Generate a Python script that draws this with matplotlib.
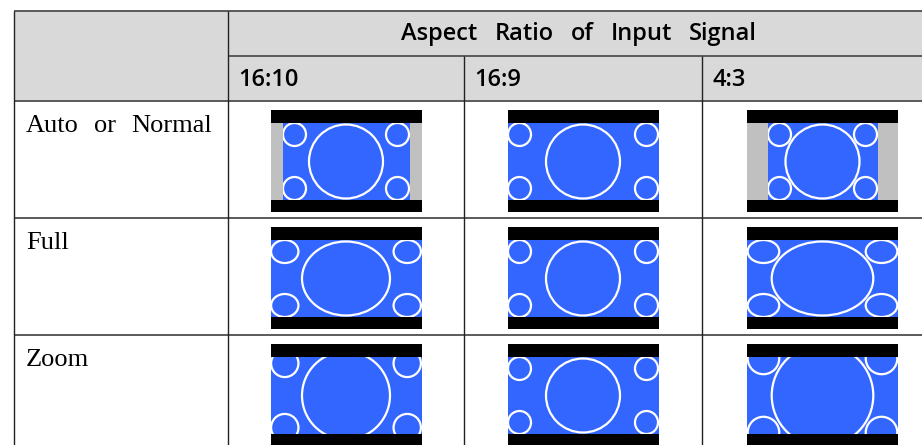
import matplotlib.pyplot as plt
from matplotlib.patches import Rectangle, Ellipse

# Table content
header = "Aspect Ratio of Input Signal"
aspects = ["16:10", "16:9", "4:3"]
modes = ["Auto or Normal", "Full", "Zoom"]

# width of the picture area for each input signal (px, native scale)
picture_widths = [127, 151, 110]

# Layout (pixels)
W, H = 922, 445
col_x = [14, 228, 464, 702, 943]
row_y = [11, 56, 101, 218, 335, 452]
frame_w, frame_h = 151, 102
bar_top, pic_h = 13, 77

blue = "#3366ff"
pillar = "#c0c0c0"
head_bg = "#d9d9d9"

fig = plt.figure(figsize=(W / 100, H / 100), dpi=100)
ax = fig.add_axes([0, 0, 1, 1])
ax.set_xlim(0, W)
ax.set_ylim(H, 0)
ax.axis("off")
renderer = fig.canvas.get_renderer()

# header background
ax.add_patch(Rectangle((col_x[0], row_y[0]), col_x[-1] - col_x[0], row_y[2] - row_y[0],
                       facecolor=head_bg, edgecolor="none"))

# grid lines
hl = dict(color="#5a5a5a", lw=1.4, solid_capstyle="butt")
ax.plot([col_x[0], col_x[-1]], [row_y[0]] * 2, **hl)
ax.plot([col_x[1], col_x[-1]], [row_y[1]] * 2, **hl)
for y in row_y[2:5]:
    ax.plot([col_x[0], col_x[-1]], [y] * 2, **hl)
vl = dict(color="#222222", lw=1.0, solid_capstyle="butt")
ax.plot([col_x[0]] * 2, [row_y[0], H], **vl)
ax.plot([col_x[1]] * 2, [row_y[0], H], **vl)
for x in col_x[2:4]:
    ax.plot([x] * 2, [row_y[1], H], **vl)

sans = dict(family=["Open Sans", "DejaVu Sans"], weight="semibold", fontsize=17)
serif = dict(family=["Liberation Serif", "DejaVu Serif"], fontsize=19)


def spaced_text(x, y, s, gap, va, props):
    # draw words one by one with a wide word gap (pixels)
    for word in s.split():
        t = ax.text(x, y, word, ha="left", va=va, **props)
        bb = t.get_window_extent(renderer)
        x += bb.width + gap


def words_width(s, gap, props):
    total = 0
    for word in s.split():
        t = ax.text(0, 0, word, **props)
        total += t.get_window_extent(renderer).width + gap
        t.remove()
    return total - gap


hw = words_width(header, 17, sans)
spaced_text(579 - hw / 2, (row_y[0] + row_y[1]) / 2 + 1, header, 17, "center", sans)
for j, a in enumerate(aspects):
    ax.text(col_x[j + 1] + 10, (row_y[1] + row_y[2]) / 2 + 1, a, ha="left", va="center", **sans)
for i, m in enumerate(modes):
    spaced_text(col_x[0] + 12, row_y[i + 2] + 31, m, 15, "baseline", serif)


def draw_picture(fx, fy, w, sx, sy):
    ax.add_patch(Rectangle((fx, fy), frame_w, frame_h, facecolor="black", edgecolor="none"))
    ax.add_patch(Rectangle((fx, fy + bar_top), frame_w, pic_h, facecolor=pillar, edgecolor="none"))
    cx = fx + frame_w / 2
    cy = fy + bar_top + pic_h / 2
    bw = min(w * sx, frame_w)
    area = Rectangle((cx - bw / 2, fy + bar_top), bw, pic_h, facecolor=blue, edgecolor="none")
    ax.add_patch(area)
    shapes = [Ellipse((cx, cy), 2 * 37 * sx, 2 * 37 * sy)]
    dx = (w / 2 - 12) * sx
    dy = 27 * sy
    for sgx in (-1, 1):
        for sgy in (-1, 1):
            shapes.append(Ellipse((cx + sgx * dx, cy + sgy * dy), 2 * 11.5 * sx, 2 * 11.5 * sy))
    for s in shapes:
        s.set_facecolor("none")
        s.set_edgecolor("white")
        s.set_linewidth(1.6)
        ax.add_patch(s)
        s.set_clip_path(area)


for i, mode in enumerate(modes):
    fy = row_y[i + 2] + 9
    for j, w in enumerate(picture_widths):
        fx = (col_x[j + 1] + col_x[j + 2]) / 2 - frame_w / 2
        if mode == "Full":
            sx, sy = frame_w / w, 1.0
        elif mode == "Zoom":
            sx = sy = frame_w / w
        else:
            sx = sy = 1.0
        draw_picture(fx, fy, w, sx, sy)

fig.savefig("out.png", dpi=100)
